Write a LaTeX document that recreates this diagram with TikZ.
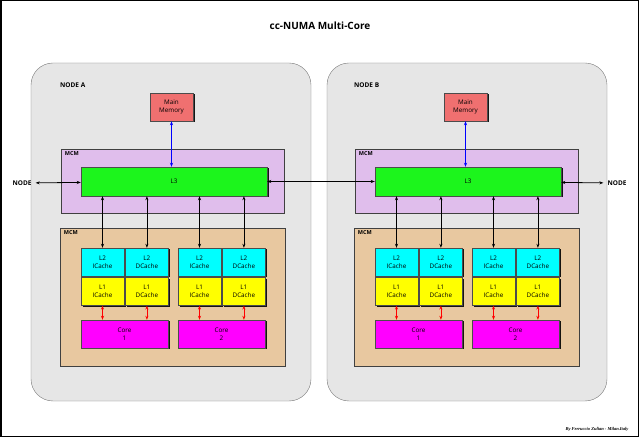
\documentclass[tikz,border=0pt]{standalone}
\usepackage{fontspec}
\setsansfont{Open Sans}
\newfontfamily\footfont{Liberation Serif}
\usepackage{tikz}
\usetikzlibrary{calc,arrows.meta}
\usetikzlibrary{positioning}
\usetikzlibrary{shadows}
\definecolor{cn-gray}{HTML}{E6E6E6}
\definecolor{cn-edge}{HTML}{7A7A7A}
\definecolor{cn-mem}{HTML}{F07070}
\definecolor{cn-mcm}{HTML}{E0BEEC}
\definecolor{cn-tan}{HTML}{E8C8A0}
\definecolor{cn-green}{HTML}{1CF51C}
\definecolor{cn-cyan}{HTML}{00FFFF}
\definecolor{cn-yellow}{HTML}{FFFF00}
\definecolor{cn-magenta}{HTML}{FF00FF}
\definecolor{cn-blue}{HTML}{0000FF}
\definecolor{cn-red}{HTML}{FF0000}
\tikzset{cell/.style={draw=black!70, inner sep=0pt, align=center, font=\sffamily\fontsize{6.3}{7.8}\selectfont,
    drop shadow={shadow xshift=1.5pt, shadow yshift=-1.5pt, fill=black, opacity=0.9}}}

\begin{document}
\begin{tikzpicture}[
    x=1pt, y=-1pt,
    font=\sffamily,
    >={Stealth[length=4pt,width=3pt]}
  ]

  % Styles for the blocks
  \tikzset{
    nodebox/.style={draw=cn-edge, fill=cn-gray, rounded corners=22pt, minimum width=280pt, minimum height=338pt},
    mcmbox/.style={draw=black!75, line width=0.6pt, fill=#1},
    tag/.style={font=\sffamily\fontsize{6.5}{8}\selectfont\bfseries, inner sep=1pt},
    mem/.style={cell, fill=cn-mem, minimum width=43pt, minimum height=28pt},
    lthree/.style={cell, fill=cn-green, minimum width=186pt, minimum height=29pt},
    ltwo/.style={cell, fill=cn-cyan, minimum width=43pt, minimum height=28pt},
    lone/.style={cell, fill=cn-yellow, minimum width=43pt, minimum height=28pt},
    core/.style={cell, fill=cn-magenta, minimum width=87pt, minimum height=28pt},
    link/.style={<->, thick}
  }

  \useasboundingbox (0,0) rectangle (640,438);
  \draw[line width=1.5pt] (0.75,0.75) rectangle (638.5,436.5);

  \node (title) at (320,26) {\fontsize{10}{12}\selectfont\bfseries cc-NUMA Multi-Core};

  % One node of the machine, drawn twice
  \foreach \n/\dx/\bx in {A/0/0,B/294/2}{
    \begin{scope}[xshift=\dx pt]
      \node[nodebox] (node\n) at (171+\bx,232) {};
      \node[tag, anchor=west] (name\n) at (59,85) {NODE \n};
      \node[mem] (mem\n) at (171.5,107) {Main\\Memory};

      \node[mcmbox=cn-mcm, minimum width=223pt, minimum height=64pt] (mcmA\n) at (172.5,181) {};
      \node[tag, anchor=north west, font=\sffamily\fontsize{5.5}{7}\selectfont\bfseries] at ($(mcmA\n.north west)+(3,2)$) {MCM};
      \node[lthree] (l3\n) at (174,181.5) {L3};

      \node[mcmbox=cn-tan, minimum width=225pt, minimum height=138pt] (mcmB\n) at (172.5,297) {};
      \node[tag, anchor=north west, font=\sffamily\fontsize{5.5}{7}\selectfont\bfseries] at ($(mcmB\n.north west)+(3,2)$) {MCM};

      \draw[link, cn-blue, line width=1pt] (mem\n.south) -- (mem\n.south |- l3\n.north);

      \foreach \c/\cx in {1/0,2/97}{
        \node[ltwo] (l2i\n\c) at (102.5+\cx,262) {L2\\ICache};
        \node[ltwo, right=1pt of l2i\n\c] (l2d\n\c) {L2\\DCache};
        \node[lone, below=1pt of l2i\n\c] (l1i\n\c) {L1\\ICache};
        \node[lone, below=1pt of l2d\n\c] (l1d\n\c) {L1\\DCache};
        \node[core] (core\n\c) at (124.5+\cx,334) {Core\\\c};

        \draw[link] (l2i\n\c.north |- l3\n.south) -- (l2i\n\c.north);
        \draw[link] (l2d\n\c.north |- l3\n.south) -- (l2d\n\c.north);
        \draw[link, cn-red] (l1i\n\c.south) -- (l1i\n\c.south |- core\n\c.north);
        \draw[link, cn-red] (l1d\n\c.south) -- (l1d\n\c.south |- core\n\c.north);
      }
    \end{scope}
  }

  % Links between the nodes
  \node[tag, inner sep=4pt] (outA) at (22,183) {NODE};
  \node[tag, inner sep=4pt] (outB) at (617,183) {NODE};
  \draw[link] (outA) -- (l3A);
  \draw[link] (l3A) -- (l3B);
  \draw[link] (l3B) -- (outB);

  \node[anchor=east, font=\footfont\fontsize{4.5}{5}\selectfont\bfseries\itshape] (sign) at (632,429) {By Ferruccio Zulian - Milan.Italy};

\end{tikzpicture}
\end{document}
